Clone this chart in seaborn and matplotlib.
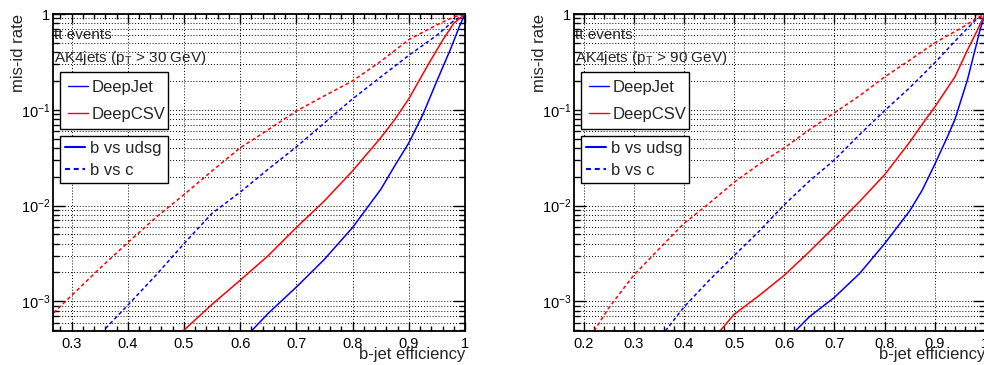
import numpy as np
import pandas as pd
import seaborn as sns
import matplotlib.pyplot as plt
from matplotlib.lines import Line2D
from matplotlib.ticker import MultipleLocator, FixedLocator, LogLocator, NullFormatter, FuncFormatter

# ---- data (b-jet efficiency, mis-id rate) ----
# pT > 30 GeV
pt30_deepjet_udsg_x = [0.60, 0.62, 0.65, 0.70, 0.75, 0.80, 0.85, 0.875, 0.90, 0.925, 0.95, 0.975, 0.99, 1.0]
pt30_deepjet_udsg_y = [3.2e-4, 4.9e-4, 7.5e-4, 1.41e-3, 2.75e-3, 5.9e-3, 0.0147, 0.026, 0.045, 0.089, 0.20, 0.44, 0.74, 1.0]
pt30_deepcsv_udsg_x = [0.48, 0.50, 0.55, 0.60, 0.65, 0.70, 0.75, 0.80, 0.85, 0.875, 0.90, 0.935, 0.96, 0.98, 1.0]
pt30_deepcsv_udsg_y = [3.7e-4, 5.0e-4, 9.3e-4, 1.66e-3, 3.0e-3, 5.9e-3, 0.0112, 0.023, 0.051, 0.079, 0.13, 0.30, 0.53, 0.80, 1.0]
pt30_deepjet_c_x = [0.34, 0.356, 0.40, 0.45, 0.50, 0.55, 0.60, 0.65, 0.70, 0.75, 0.80, 0.85, 0.90, 0.95, 0.98, 1.0]
pt30_deepjet_c_y = [3.6e-4, 4.9e-4, 9.1e-4, 1.87e-3, 4.0e-3, 8.3e-3, 0.0138, 0.024, 0.041, 0.073, 0.13, 0.22, 0.37, 0.60, 0.85, 1.0]
pt30_deepcsv_c_x = [0.26, 0.30, 0.35, 0.40, 0.45, 0.50, 0.55, 0.60, 0.65, 0.70, 0.75, 0.80, 0.85, 0.90, 0.95, 0.98, 1.0]
pt30_deepcsv_c_y = [6.8e-4, 1.15e-3, 2.2e-3, 4.1e-3, 7.5e-3, 0.013, 0.023, 0.040, 0.062, 0.097, 0.14, 0.20, 0.32, 0.54, 0.77, 0.93, 1.0]

# pT > 90 GeV
pt90_deepjet_udsg_x = [0.60, 0.622, 0.65, 0.70, 0.75, 0.80, 0.85, 0.875, 0.90, 0.925, 0.94, 0.965, 0.98, 0.99, 1.0]
pt90_deepjet_udsg_y = [3.3e-4, 4.9e-4, 6.9e-4, 1.1e-3, 1.95e-3, 4.0e-3, 8.8e-3, 0.0145, 0.027, 0.052, 0.079, 0.205, 0.42, 0.68, 1.0]
pt90_deepcsv_udsg_x = [0.45, 0.472, 0.50, 0.55, 0.60, 0.65, 0.70, 0.75, 0.80, 0.85, 0.88, 0.90, 0.94, 0.965, 0.985, 1.0]
pt90_deepcsv_udsg_y = [3.4e-4, 4.9e-4, 7.3e-4, 1.15e-3, 1.87e-3, 3.3e-3, 6.0e-3, 0.011, 0.021, 0.046, 0.077, 0.107, 0.22, 0.42, 0.68, 1.0]
pt90_deepjet_c_x = [0.34, 0.363, 0.40, 0.45, 0.50, 0.55, 0.60, 0.65, 0.70, 0.75, 0.80, 0.85, 0.90, 0.95, 0.98, 1.0]
pt90_deepjet_c_y = [3.4e-4, 4.9e-4, 8.7e-4, 1.65e-3, 3.0e-3, 5.4e-3, 0.0102, 0.018, 0.030, 0.055, 0.098, 0.17, 0.31, 0.59, 0.85, 1.0]
pt90_deepcsv_c_x = [0.20, 0.221, 0.25, 0.30, 0.35, 0.40, 0.45, 0.50, 0.55, 0.60, 0.65, 0.70, 0.75, 0.80, 0.85, 0.90, 0.95, 0.98, 1.0]
pt90_deepcsv_c_y = [2.8e-4, 4.9e-4, 8.5e-4, 1.87e-3, 3.5e-3, 6.5e-3, 0.0105, 0.0175, 0.027, 0.040, 0.062, 0.093, 0.14, 0.22, 0.33, 0.50, 0.70, 0.88, 1.0]

taggers = ["DeepJet", "DeepCSV"]
categories = ["b vs udsg", "b vs c"]
panel_texts = ["AK4jets (p$_\\mathrm{T}$ > 30 GeV)", "AK4jets (p$_\\mathrm{T}$ > 90 GeV)"]
ytick_vals = [1e-3, 1e-2, 1e-1, 1]
ytick_labels = ["10$^{-3}$", "10$^{-2}$", "10$^{-1}$", "1"]


def make_df(curves):
    rows = []
    for (tagger, cat), (xs, ys) in curves.items():
        for x, y in zip(xs, ys):
            rows.append({"eff": x, "rate": y, "tagger": tagger, "cat": cat})
    return pd.DataFrame(rows)


df30 = make_df({
    ("DeepJet", "b vs udsg"): (pt30_deepjet_udsg_x, pt30_deepjet_udsg_y),
    ("DeepCSV", "b vs udsg"): (pt30_deepcsv_udsg_x, pt30_deepcsv_udsg_y),
    ("DeepJet", "b vs c"): (pt30_deepjet_c_x, pt30_deepjet_c_y),
    ("DeepCSV", "b vs c"): (pt30_deepcsv_c_x, pt30_deepcsv_c_y),
})
df90 = make_df({
    ("DeepJet", "b vs udsg"): (pt90_deepjet_udsg_x, pt90_deepjet_udsg_y),
    ("DeepCSV", "b vs udsg"): (pt90_deepcsv_udsg_x, pt90_deepcsv_udsg_y),
    ("DeepJet", "b vs c"): (pt90_deepjet_c_x, pt90_deepjet_c_y),
    ("DeepCSV", "b vs c"): (pt90_deepcsv_c_x, pt90_deepcsv_c_y),
})

sns.set_style("ticks")
plt.rcParams["font.family"] = ["Liberation Sans", "DejaVu Sans"]
plt.rcParams["mathtext.fontset"] = "custom"
plt.rcParams["mathtext.rm"] = "Liberation Sans"
plt.rcParams["mathtext.it"] = "Liberation Sans:italic"
plt.rcParams["mathtext.default"] = "regular"

palette = {"DeepJet": "#0000ff", "DeepCSV": "#ff0000"}
dashes = {"b vs udsg": "", "b vs c": (2.4, 1.8)}

fig = plt.figure(figsize=(9.84, 3.65), dpi=100)
ax1 = fig.add_axes([53 / 984, 1 - 331 / 365, 412 / 984, 317 / 365])
ax2 = fig.add_axes([574 / 984, 1 - 331 / 365, 411 / 984, 317 / 365])

for ax, df, xmin, txt in [(ax1, df30, 0.267, panel_texts[0]), (ax2, df90, 0.181, panel_texts[1])]:
    sns.lineplot(data=df, x="eff", y="rate", hue="tagger", style="cat",
                 palette=palette, dashes=dashes, hue_order=taggers, style_order=categories,
                 estimator=None, sort=False, lw=1.1, legend=False, ax=ax)
    ax.set_yscale("log")
    ax.set_xlim(xmin, 1.0)
    ax.set_ylim(4.9e-4, 1.0)

    ax.xaxis.set_major_locator(MultipleLocator(0.1))
    ax.xaxis.set_minor_locator(MultipleLocator(0.02))
    ax.xaxis.set_major_formatter(FuncFormatter(lambda v, p: f"{v:g}"))
    ax.yaxis.set_major_locator(FixedLocator(ytick_vals))
    ax.set_yticklabels(ytick_labels)
    ax.yaxis.set_minor_locator(LogLocator(base=10, subs=np.arange(2, 10)))
    ax.yaxis.set_minor_formatter(NullFormatter())

    ax.tick_params(axis="both", which="both", direction="in", top=True, right=True,
                   labelsize=10.5, colors="black", width=1.0)
    ax.tick_params(axis="x", which="major", length=6.8, pad=4)
    ax.tick_params(axis="x", which="minor", length=3.4)
    ax.tick_params(axis="y", which="major", length=8.6, pad=2)
    ax.tick_params(axis="y", which="minor", length=4.3)

    ax.grid(which="major", axis="both", color="black", ls=(0, (1, 2)), lw=0.7)
    ax.grid(which="minor", axis="y", color="black", ls=(0, (1, 2)), lw=0.7)
    for sp in ax.spines.values():
        sp.set_linewidth(1.3)
        sp.set_color("black")

    ax.set_xlabel("b-jet efficiency", fontsize=12, loc="right")
    ax.xaxis.set_label_coords(1.0, -0.05)
    ax.set_ylabel("mis-id rate", fontsize=12, loc="top")
    ax.yaxis.set_label_coords(-0.066, 1.0)

    ax.text(0.003, 0.934, "tt events", transform=ax.transAxes, fontsize=11, va="center", ha="left")
    ax.text(0.003, 0.861, txt, transform=ax.transAxes, fontsize=11, va="center", ha="left")

    h1 = [Line2D([], [], color=palette[t], lw=1.0) for t in taggers]
    leg1 = ax.legend(h1, taggers, loc="upper left", bbox_to_anchor=(0.018, 0.817, 0.261, 0),
                     mode="expand", borderaxespad=0, fontsize=12, handlelength=1.2,
                     handletextpad=0.25, labelspacing=0.72, borderpad=0.45,
                     fancybox=False, edgecolor="black", framealpha=1)
    leg1.get_frame().set_linewidth(1.0)
    ax.add_artist(leg1)
    h2 = [Line2D([], [], color="#0000ff", lw=1.5, ls="-"),
          Line2D([], [], color="#0000ff", lw=1.5, dashes=(2.4, 1.8))]
    leg2 = ax.legend(h2, categories, loc="upper left", bbox_to_anchor=(0.018, 0.615, 0.261, 0),
                     mode="expand", borderaxespad=0, fontsize=12, handlelength=1.2,
                     handletextpad=0.25, labelspacing=0.42, borderpad=0.3,
                     fancybox=False, edgecolor="black", framealpha=1)
    leg2.get_frame().set_linewidth(1.0)

fig.savefig("out.png", dpi=100)
